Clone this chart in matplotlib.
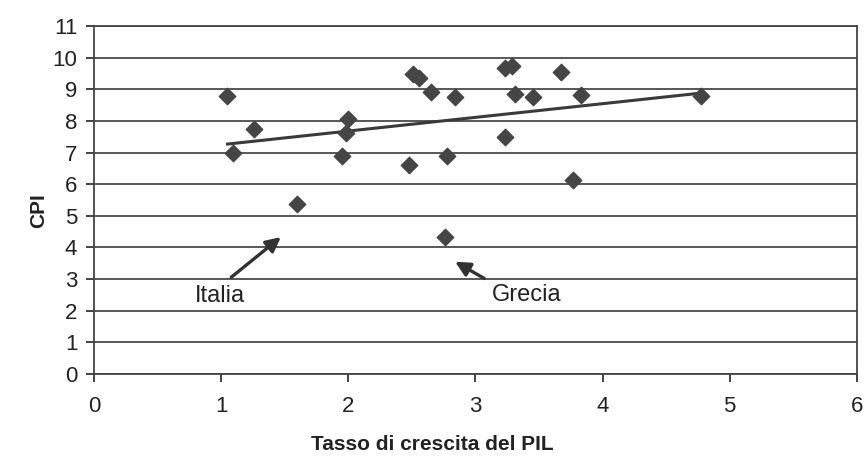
import numpy as np
import matplotlib
matplotlib.use("Agg")
import matplotlib.pyplot as plt

# =======================
# Data
# =======================
pil_growth = [1.05, 1.09, 1.26, 1.60, 1.95, 1.98, 2.00, 2.48, 2.51, 2.56, 2.65,
              2.78, 2.76, 2.84, 3.23, 3.29, 3.23, 3.31, 3.45, 3.67, 3.77, 3.83, 4.77]
cpi = [8.8, 7.0, 7.75, 5.37, 6.9, 7.62, 8.05, 6.6, 9.5, 9.37, 8.93,
       6.9, 4.33, 8.75, 9.67, 9.73, 7.5, 8.85, 8.75, 9.54, 6.14, 8.83, 8.78]
x_ticks = [0, 1, 2, 3, 4, 5, 6]
y_ticks = list(range(0, 12))

# trend line end points (as drawn in the source)
trend_x = [1.05, 4.77]
trend_y = [7.27, 8.88]

# labelled countries: text position, arrow tail, arrow head
labels = ["Italia", "Grecia"]
label_pos = [(0.99, 2.47), (3.40, 2.5)]
arrow_tail = [(1.08, 3.06), (3.07, 3.02)]
arrow_head = [(1.47, 4.33), (2.84, 3.55)]

plt.rcParams['font.family'] = ['Liberation Sans', 'DejaVu Sans']

fig = plt.figure(figsize=(8.66, 4.62), dpi=100)
ax = fig.add_axes([0.1085, 0.1905, 0.881, 0.753])

# grid lines at every integer
for y in y_ticks:
    ax.axhline(y, color="#4a4a4a", lw=1.3, zorder=1)

ax.plot(trend_x, trend_y, color="#3a3a3a", lw=2.2, zorder=2)
ax.scatter(pil_growth, cpi, marker="D", s=70, color="#454545", zorder=3)

# annotations
for name, pos, tail, head in zip(labels, label_pos, arrow_tail, arrow_head):
    ax.text(pos[0], pos[1], name, fontsize=17, ha="center", va="center",
            color="#222222")
    ax.annotate("", xy=head, xytext=tail,
                arrowprops=dict(arrowstyle="-|>", color="#333333", lw=2.4,
                                mutation_scale=22, shrinkA=0, shrinkB=0))

ax.set_xlim(0, 6)
ax.set_ylim(0, 11)
ax.set_xticks(x_ticks)
ax.set_yticks(y_ticks)
ax.tick_params(axis="both", labelsize=16, length=6, width=1.2,
               colors="#222222", pad=6)
ax.tick_params(axis="x", pad=10)

for side in ["left", "right", "top", "bottom"]:
    ax.spines[side].set_color("#444444")
    ax.spines[side].set_linewidth(1.3)

ax.set_xlabel("Tasso di crescita del PIL", fontsize=15, fontweight="bold",
              color="#222222")
ax.xaxis.set_label_coords(0.444, -0.175)
ax.set_ylabel("CPI", fontsize=15, fontweight="bold", color="#222222")
ax.yaxis.set_label_coords(-0.06, 0.47)

fig.savefig("out.png", dpi=100)
